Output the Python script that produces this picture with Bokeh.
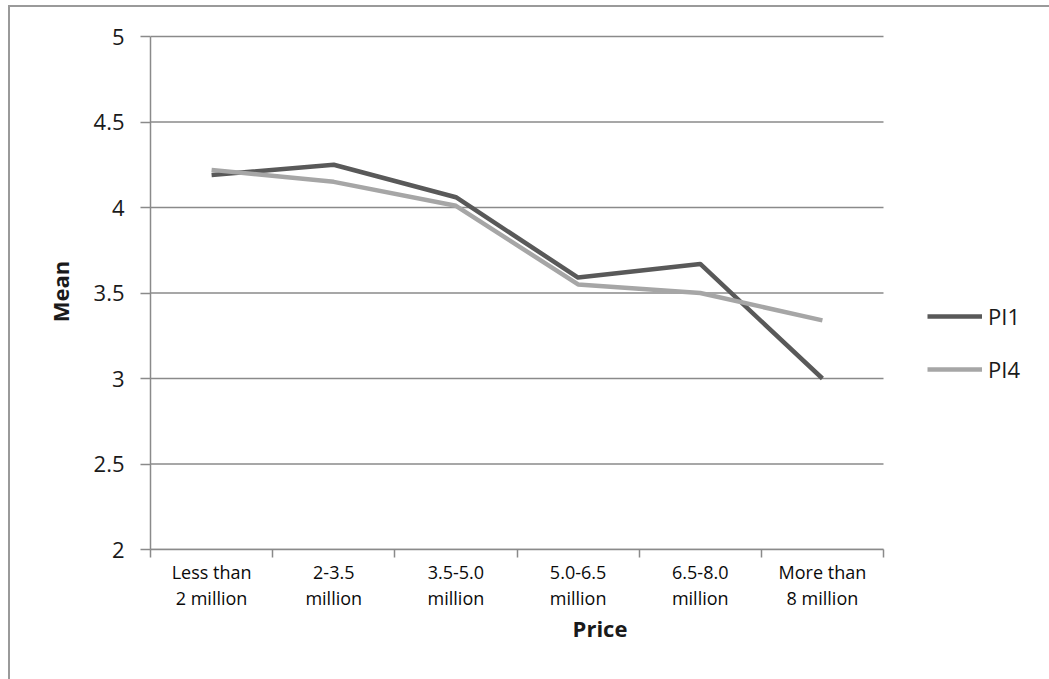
from bokeh.plotting import figure
from bokeh.models import (Range1d, FixedTicker, NumeralTickFormatter, Legend,
                          LegendItem, ColumnDataSource)
from bokeh.layouts import column
from bokeh.embed import file_html
from bokeh.resources import INLINE

# Mean score by price band
categories = ["Less than\n2 million", "2-3.5\nmillion", "3.5-5.0\nmillion",
              "5.0-6.5\nmillion", "6.5-8.0\nmillion", "More than\n8 million"]
pi1 = [4.19, 4.25, 4.06, 3.59, 3.67, 3.00]
pi4 = [4.22, 4.15, 4.01, 3.55, 3.50, 3.34]
series_names = ["PI1", "PI4"]
y_ticks = [2, 2.5, 3, 3.5, 4, 4.5, 5]

FONT = "Open Sans"
GRID = "#8a8a8a"

# plotting area: the category band is 733px wide, the frame continues to the
# right edge so the legend can sit beside the chart
FIG_W, FIG_H = 1039, 672
LEFT, TOP, BOTTOM = 140, 26, 130
BAND_W = 733
PX_PER_UNIT = 171
n = len(categories)
frame_w = FIG_W - LEFT
frame_h = FIG_H - TOP - BOTTOM
x_end = n * frame_w / BAND_W
y_end = y_ticks[0] + frame_h / PX_PER_UNIT

xpos = [i + 0.5 for i in range(n)]
src = ColumnDataSource(dict(x=xpos, pi1=pi1, pi4=pi4))
grid_src = ColumnDataSource(dict(x0=[0] * len(y_ticks), x1=[n] * len(y_ticks),
                                 y=y_ticks))

p = figure(width=FIG_W, height=FIG_H, output_backend="svg", toolbar_location=None,
           x_range=Range1d(0, x_end), y_range=Range1d(y_ticks[0], y_end),
           min_border_left=LEFT, min_border_top=TOP, min_border_right=0,
           min_border_bottom=BOTTOM)
p.outline_line_color = None
p.background_fill_color = "white"
p.border_fill_color = "white"
p.xgrid.grid_line_color = None
p.ygrid.grid_line_color = None

# horizontal gridlines across the category band only
p.segment(x0="x0", x1="x1", y0="y", y1="y", source=grid_src,
          line_color=GRID, line_width=1.5)

# category labels sit at the centres, tick marks at the boundaries
p.xaxis.bounds = (0, n)
p.xaxis.ticker = FixedTicker(ticks=xpos, minor_ticks=list(range(n + 1)))
p.xaxis.major_label_overrides = {x: c for x, c in zip(xpos, categories)}
p.xaxis.major_tick_out = 0
p.xaxis.major_tick_in = 0
p.xaxis.minor_tick_out = 8
p.xaxis.minor_tick_in = 0
p.xaxis.minor_tick_line_color = GRID
p.xaxis.minor_tick_line_width = 1.5
p.xaxis.major_label_text_font = FONT
p.xaxis.major_label_text_font_size = "18px"
p.xaxis.major_label_text_color = "#0a0a0a"
p.xaxis.major_label_text_line_height = 1.1
p.xaxis.major_label_standoff = 2
p.xaxis.axis_label = "Price"
p.xaxis.axis_label_text_font = FONT
p.xaxis.axis_label_text_font_style = "bold"
p.xaxis.axis_label_text_font_size = "22px"
p.xaxis.axis_label_text_color = "#1a1a1a"
p.xaxis.axis_label_standoff = 0

p.yaxis.bounds = (y_ticks[0], y_ticks[-1])
p.yaxis.ticker = FixedTicker(ticks=y_ticks)
p.yaxis.formatter = NumeralTickFormatter(format="0.[0]")
p.yaxis.major_tick_out = 10
p.yaxis.major_tick_in = 0
p.yaxis.minor_tick_line_color = None
p.yaxis.major_tick_line_color = GRID
p.yaxis.major_tick_line_width = 1.5
p.yaxis.major_label_text_font = FONT
p.yaxis.major_label_text_font_size = "22px"
p.yaxis.major_label_text_color = "#1a1a1a"
p.yaxis.major_label_standoff = 16
p.yaxis.axis_label = "Mean"
p.yaxis.axis_label_text_font = FONT
p.yaxis.axis_label_text_font_style = "bold"
p.yaxis.axis_label_text_font_size = "22px"
p.yaxis.axis_label_text_color = "#1a1a1a"
p.yaxis.axis_label_standoff = 16

for ax in (p.xaxis, p.yaxis):
    ax.axis_line_color = GRID
    ax.axis_line_width = 1.5

r1 = p.line("x", "pi1", source=src, line_color="#595959", line_width=4.5,
            line_join="round")
r4 = p.line("x", "pi4", source=src, line_color="#a6a6a6", line_width=4.5,
            line_join="round")

# legend to the right of the category band
legend = Legend(items=[LegendItem(label=series_names[0], renderers=[r1]),
                       LegendItem(label=series_names[1], renderers=[r4])],
                location=(BAND_W + 44, 165), orientation="vertical",
                glyph_width=55, glyph_height=20, label_height=20,
                label_standoff=6, spacing=23, padding=0, margin=0,
                border_line_color=None, background_fill_alpha=0,
                label_text_font=FONT, label_text_font_size="22px",
                label_text_color="#1a1a1a")
p.add_layout(legend)

layout = column(p, margin=(5, 0, 0, 8),
                styles={"border-left": "2px solid #9a9a9a",
                        "border-top": "2px solid #9a9a9a"})

open("out.html", "w").write(file_html(layout, INLINE))
